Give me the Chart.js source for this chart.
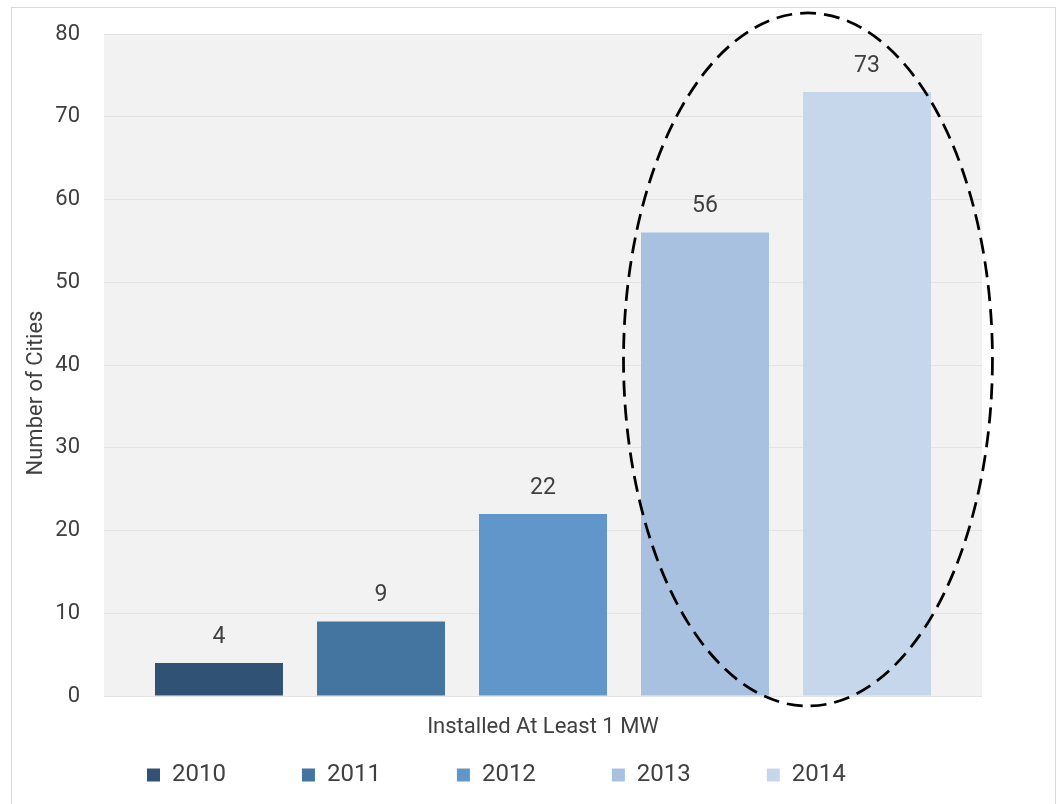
<!DOCTYPE html>
<html><head><meta charset="utf-8">
<script src="https://cdn.jsdelivr.net/npm/chart.js@4.4.1/dist/chart.umd.min.js"></script>
<style>
html,body{margin:0;padding:0;background:#fff;}
#wrap{position:relative;width:1058px;height:804px;overflow:hidden;}
#frame{position:absolute;left:11px;top:7px;width:1043px;height:820px;border:1px solid #d9d9d9;pointer-events:none;}
canvas{position:absolute;left:0;top:0;}
</style></head><body>
<div id="wrap"><canvas id="c" width="1058" height="804"></canvas><div id="frame"></div></div>
<script>
// ---- data ----
const categories = ['Installed At Least 1 MW'];
const seriesNames = ['2010', '2011', '2012', '2013', '2014'];
const values2010 = [4];
const values2011 = [9];
const values2012 = [22];
const values2013 = [56];
const values2014 = [73];
const seriesColors = ['#2f5275', '#4474a0', '#6096c9', '#a8c1e0', '#c6d7ec'];
const yTicks = [0, 10, 20, 30, 40, 50, 60, 70, 80];
const yAxisTitle = 'Number of Cities';

const seriesValues = [values2010, values2011, values2012, values2013, values2014];
const FONT = 'Roboto';
const TEXT = '#404040';

// annotation ellipse: x as fraction of plot width, y in data units
const ellipseSpec = {cxFrac: 0.8018, rxFrac: 0.2101, yTop: 82.54, yBottom: -1.21};

const plotBg = {
  id: 'plotBg',
  beforeDraw(chart) {
    const {ctx, chartArea: a} = chart;
    ctx.save();
    ctx.fillStyle = '#f2f2f2';
    ctx.fillRect(a.left, a.top, a.right - a.left, a.bottom - a.top);
    ctx.restore();
  }
};

const legendPlace = {
  id: 'legendPlace',
  beforeLayout(chart) {
    const lg = chart.legend;
    if (lg && !lg._wrappedFit) {
      const f = lg.fit;
      lg.fit = function () { f.call(this); this.height = 68; };
      lg._wrappedFit = true;
    }
  },
  afterLayout(chart) {
    const lg = chart.legend;
    const p = lg.options.labels.padding;
    lg.left = 147 - p;
    lg.top = 763 - p;
  }
};

const extras = {
  id: 'extras',
  afterDatasetsDraw(chart) {
    const {ctx, chartArea: a, scales: {y}} = chart;
    // value labels
    ctx.save();
    ctx.font = '23px ' + FONT;
    ctx.fillStyle = TEXT;
    ctx.textAlign = 'center';
    ctx.textBaseline = 'middle';
    chart.data.datasets.forEach((ds, i) => {
      chart.getDatasetMeta(i).data.forEach((bar, j) => {
        ctx.fillText(String(ds.data[j]), bar.x, bar.y - 26);
      });
    });
    ctx.restore();
    // dashed ellipse
    const w = a.right - a.left;
    const cx = a.left + ellipseSpec.cxFrac * w;
    const rx = ellipseSpec.rxFrac * w;
    const top = y.getPixelForValue(ellipseSpec.yTop);
    const bot = y.getPixelForValue(ellipseSpec.yBottom);
    ctx.save();
    ctx.strokeStyle = '#000';
    ctx.lineWidth = 2.75;
    ctx.setLineDash([16, 8]);
    ctx.beginPath();
    ctx.ellipse(cx, (top + bot) / 2, rx, (bot - top) / 2, 0, 0, Math.PI * 2);
    ctx.stroke();
    ctx.restore();
    // y axis title
    ctx.save();
    ctx.font = '22px ' + FONT;
    ctx.fillStyle = TEXT;
    ctx.textAlign = 'center';
    ctx.textBaseline = 'middle';
    ctx.translate(36, (a.top + a.bottom) / 2 + 28);
    ctx.rotate(-Math.PI / 2);
    ctx.fillText(yAxisTitle, 0, 0);
    ctx.restore();
  }
};

new Chart(document.getElementById('c'), {
  type: 'bar',
  data: {
    labels: categories,
    datasets: seriesNames.map((name, i) => ({
      label: name,
      data: seriesValues[i],
      backgroundColor: seriesColors[i],
      borderWidth: 0,
      categoryPercentage: 0.9226,
      barPercentage: 0.79
    }))
  },
  options: {
    responsive: false,
    animation: false,
    devicePixelRatio: 1,
    layout: {padding: {top: 34, right: 76, bottom: 0, left: 0}},
    plugins: {
      tooltip: {enabled: false},
      legend: {
        position: 'bottom',
        align: 'start',
        labels: {
          boxWidth: 13,
          boxHeight: 13,
          padding: 76,
          color: TEXT,
          font: {family: FONT, size: 24}
        }
      }
    },
    scales: {
      x: {
        grid: {display: false},
        border: {display: false},
        ticks: {color: TEXT, font: {family: FONT, size: 22}, padding: 10},
        afterFit(s) { s.height = 40; }
      },
      y: {
        min: 0,
        max: 80,
        afterBuildTicks(s) { s.ticks = yTicks.map(v => ({value: v})); },
        grid: {color: '#e3e3e3', lineWidth: 1, drawTicks: false},
        border: {display: false},
        ticks: {color: TEXT, font: {family: FONT, size: 22}, padding: 24},
        afterFit(s) { s.width = 104; s.paddingTop = 12; s.paddingBottom = 12; }
      }
    }
  },
  plugins: [plotBg, legendPlace, extras]
});
</script>
</body></html>
